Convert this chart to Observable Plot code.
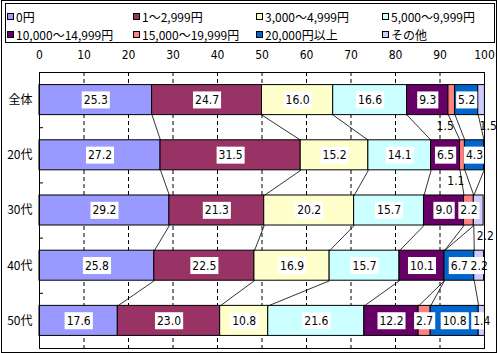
<!DOCTYPE html>
<html><head><meta charset="utf-8">
<script src="https://cdn.jsdelivr.net/npm/d3@7"></script>
<script src="https://cdn.jsdelivr.net/npm/@observablehq/plot@0.6"></script>
<style>
body{margin:0;background:#fff;}
#wrap{position:relative;width:500px;height:353px;overflow:hidden;background:#fff;}
#chart{position:absolute;left:0;top:0;}
#outer{position:absolute;left:1px;top:0;width:496px;height:353px;border:1px solid #000;box-sizing:border-box;pointer-events:none;}
#legend{position:absolute;left:5px;top:3px;width:490px;height:40px;border:1px solid #000;box-sizing:border-box;background:#fff;font-family:"Noto Sans CJK JP",sans-serif;font-size:12px;letter-spacing:0;color:#000;}
.item{position:absolute;display:flex;align-items:center;height:16px;white-space:nowrap;}
.sw{width:7px;height:7px;border:1px solid #000;box-sizing:border-box;margin-right:2px;flex:none;}
</style>
</head><body>
<div id="wrap"><div id="chart"></div><div id="legend"></div><div id="outer"></div></div>
<script>
const rows = ["全体","20代","30代","40代","50代"];
const categories = ["0円","1～2,999円","3,000～4,999円","5,000～9,999円","10,000～14,999円","15,000～19,999円","20,000円以上","その他"];
const colors = ["#9999FF","#993366","#FFFFCC","#CCFFFF","#660066","#FF8080","#0066CC","#CCCCFF"];
const valuesAll = [25.3,24.7,16.0,16.6,9.3,1.5,5.2,1.5];
const values20s = [27.2,31.5,15.2,14.1,6.5,1.1,4.3,0];
const values30s = [29.2,21.3,20.2,15.7,9.0,2.2,0,2.2];
const values40s = [25.8,22.5,16.9,15.7,10.1,0,6.7,2.2];
const values50s = [17.6,23.0,10.8,21.6,12.2,2.7,10.8,1.4];
const xTicks = [0,10,20,30,40,50,60,70,80,90,100];

const rowValues = [valuesAll, values20s, values30s, values40s, values50s];
const half = 0.272;
const segments = [];
rowValues.forEach((vals, i) => {
  let c = 0;
  vals.forEach((v, k) => { segments.push({row: i, cat: k, value: v, x1: c, x2: c + v}); c += v; });
});
const seg = (i, k) => segments.find(d => d.row === i && d.cat === k);
const bars = segments.filter(d => d.value > 0);
// labels drawn below the bar instead of inside it
const outside = [
  {row: 0, cat: 5, anchor: "end"},
  {row: 0, cat: 7, anchor: "start"},
  {row: 1, cat: 5, anchor: "end"},
  {row: 2, cat: 7, anchor: "start"}
];
const findOut = d => outside.find(o => o.row === d.row && o.cat === d.cat);
const inLabels = bars.filter(d => !findOut(d));
const outEnd = bars.filter(d => findOut(d) && findOut(d).anchor === "end");
const outStart = bars.filter(d => findOut(d) && findOut(d).anchor === "start");
const links = [];
for (let i = 0; i < rows.length - 1; i++) {
  for (let k = 0; k < categories.length - 1; k++) {
    links.push({x1: seg(i, k).x2, y1: i + half, x2: seg(i + 1, k).x2, y2: i + 1 - half});
  }
}
const mid = d => (d.x1 + d.x2) / 2;
const numFont = '"Liberation Sans Narrow","DejaVu Sans Condensed","Noto Sans CJK JP",sans-serif';

const plot = Plot.plot({
  width: 500, height: 353,
  marginLeft: 39, marginRight: 16, marginTop: 72, marginBottom: 5,
  style: {background: "transparent", fontFamily: numFont, fontSize: "12px", color: "#000"},
  x: {domain: [0, 100]},
  y: {domain: [-0.5, 4.5], reverse: true},
  color: {domain: categories, range: colors},
  marks: [
    Plot.ruleX(xTicks.filter(t => t > 0 && t < 100), {stroke: "#000", strokeDasharray: "4,3", strokeWidth: 1}),
    Plot.rect(bars, {x1: "x1", x2: "x2", y1: d => d.row - half, y2: d => d.row + half, fill: d => categories[d.cat], stroke: "#000", strokeWidth: 1}),
    Plot.link(links, {x1: "x1", y1: "y1", x2: "x2", y2: "y2", stroke: "#000", strokeWidth: 0.8}),
    Plot.text(inLabels, {x: mid, y: "row", text: d => d.value.toFixed(1), fill: "#010101", fontSize: 12}),
    Plot.text(outEnd, {x: mid, y: d => d.row + half, dy: 11, dx: 2, textAnchor: "end", text: d => d.value.toFixed(1), fill: "#000", fontSize: 12}),
    Plot.text(outStart, {x: mid, y: d => d.row + half, dy: 11, dx: -2, textAnchor: "start", text: d => d.value.toFixed(1), fill: "#000", fontSize: 12}),
    Plot.axisX(xTicks, {anchor: "top", tickSize: 0, tickPadding: 14, label: null, fontSize: 12}),
    Plot.axisY([0,1,2,3,4], {anchor: "left", tickSize: 0, tickPadding: 7, tickFormat: i => rows[i], label: null, fontFamily: '"Noto Sans CJK JP",sans-serif', fontSize: 12}),
    Plot.axisY([0.5,1.5,2.5,3.5], {anchor: "left", tickSize: -4, text: null, label: null}),
    Plot.frame({stroke: "#000"})
  ]
});
document.getElementById("chart").append(plot);

// white boxes behind inside labels
plot.querySelectorAll('g[fill="#010101"] text').forEach(t => {
  const bb = t.getBBox();
  const r = document.createElementNS("http://www.w3.org/2000/svg", "rect");
  r.setAttribute("x", bb.x - 2);
  r.setAttribute("y", bb.y - 1.5);
  r.setAttribute("width", bb.width + 4);
  r.setAttribute("height", bb.height + 3);
  r.setAttribute("fill", "#fff");
  r.setAttribute("stroke", "none");
  if (t.getAttribute("transform")) r.setAttribute("transform", t.getAttribute("transform"));
  t.parentNode.insertBefore(r, t);
});

// legend
const legend = document.getElementById("legend");
const colX = [1, 127, 250, 376];
const rowY = [4, 22];
categories.forEach((c, j) => {
  const it = document.createElement("div");
  it.className = "item";
  it.style.left = colX[j % 4] + "px";
  it.style.top = rowY[Math.floor(j / 4)] + "px";
  const sw = document.createElement("span");
  sw.className = "sw";
  sw.style.background = colors[j];
  const tx = document.createElement("span");
  tx.textContent = c;
  it.append(sw, tx);
  legend.append(it);
});
</script>
</body></html>
